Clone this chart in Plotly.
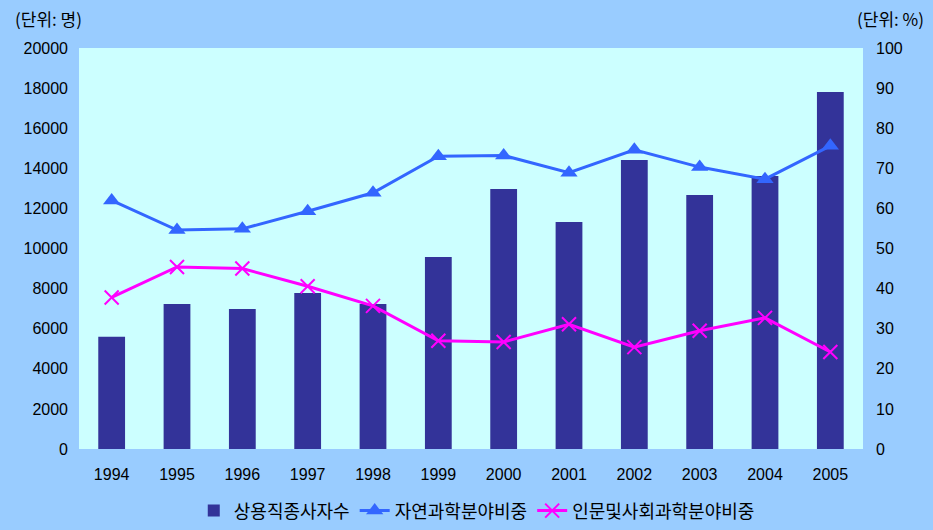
import plotly.graph_objects as go

years = ["1994", "1995", "1996", "1997", "1998", "1999", "2000", "2001", "2002", "2003", "2004", "2005"]
workers = [5600, 7230, 6980, 7780, 7230, 9580, 12970, 11320, 14410, 12670, 13620, 17800]
natural_sci = [62.0, 54.6, 54.9, 59.3, 63.9, 73.0, 73.2, 68.9, 74.6, 70.3, 67.3, 75.6]
humanities = [37.8, 45.4, 45.0, 40.6, 35.7, 27.0, 26.7, 31.1, 25.4, 29.5, 32.7, 24.2]

left_ticks = [0, 2000, 4000, 6000, 8000, 10000, 12000, 14000, 16000, 18000, 20000]
right_ticks = [0, 10, 20, 30, 40, 50, 60, 70, 80, 90, 100]

num_font = dict(family="Liberation Sans, Arial", size=16, color="#000000")
kr_font = dict(family="Noto Sans CJK KR", size=18, color="#000000")
unit_font = dict(family="Noto Sans CJK KR", size=17, color="#000000")

fig = go.Figure()
fig.add_trace(go.Bar(
    x=years, y=workers, name="상용직종사자수",
    marker=dict(color="#333399", line=dict(width=0)),
    width=0.41, yaxis="y",
))
fig.add_trace(go.Scatter(
    x=years, y=natural_sci, name="자연과학분야비중", mode="lines+markers",
    line=dict(color="#3366FF", width=3),
    marker=dict(symbol="triangle-up", size=15, color="#3366FF"),
    yaxis="y2",
))
fig.add_trace(go.Scatter(
    x=years, y=humanities, name="인문및사회과학분야비중", mode="lines+markers",
    line=dict(color="#FF00FF", width=3),
    marker=dict(symbol="x-thin-open", size=14, line=dict(color="#FF00FF", width=2)),
    yaxis="y2",
))

fig.update_layout(
    width=933, height=530,
    margin=dict(l=79, r=70, t=48, b=81, autoexpand=False),
    paper_bgcolor="#99CCFF",
    plot_bgcolor="#CCFFFF",
    showlegend=True,
    legend=dict(
        orientation="h", xref="container", yref="container",
        x=0.511, xanchor="center", y=0.036, yanchor="middle",
        font=kr_font, bgcolor="rgba(0,0,0,0)", itemwidth=30,
        tracegroupgap=0,
    ),
    xaxis=dict(
        type="category", range=[-0.5, len(years) - 0.5],
        showgrid=False, zeroline=False, showline=False,
        tickfont=num_font, ticks="", ticklabelstandoff=14, automargin=False,
    ),
    yaxis=dict(
        range=[0, 20000], tickvals=left_ticks, ticktext=[str(v) for v in left_ticks],
        showgrid=False, zeroline=False, showline=False,
        tickfont=num_font, ticklabelstandoff=10, automargin=False,
    ),
    yaxis2=dict(
        range=[0, 100], tickvals=right_ticks, ticktext=[str(v) for v in right_ticks],
        overlaying="y", side="right",
        showgrid=False, zeroline=False, showline=False,
        tickfont=num_font, ticklabelstandoff=12, automargin=False,
    ),
    annotations=[
        dict(text="(단위: 명)", xref="paper", yref="paper", x=-0.084, y=1.0,
             xanchor="left", yanchor="middle", yshift=30, showarrow=False, font=unit_font),
        dict(text="(단위: %)", xref="paper", yref="paper", x=1.08, y=1.0,
             xanchor="right", yanchor="middle", yshift=30, showarrow=False, font=unit_font),
    ],
)

fig.write_html(
    "out.html",
    config={"displayModeBar": False},
    post_script="document.body.style.margin='0';document.body.style.padding='0';document.body.style.overflow='hidden';",
)
